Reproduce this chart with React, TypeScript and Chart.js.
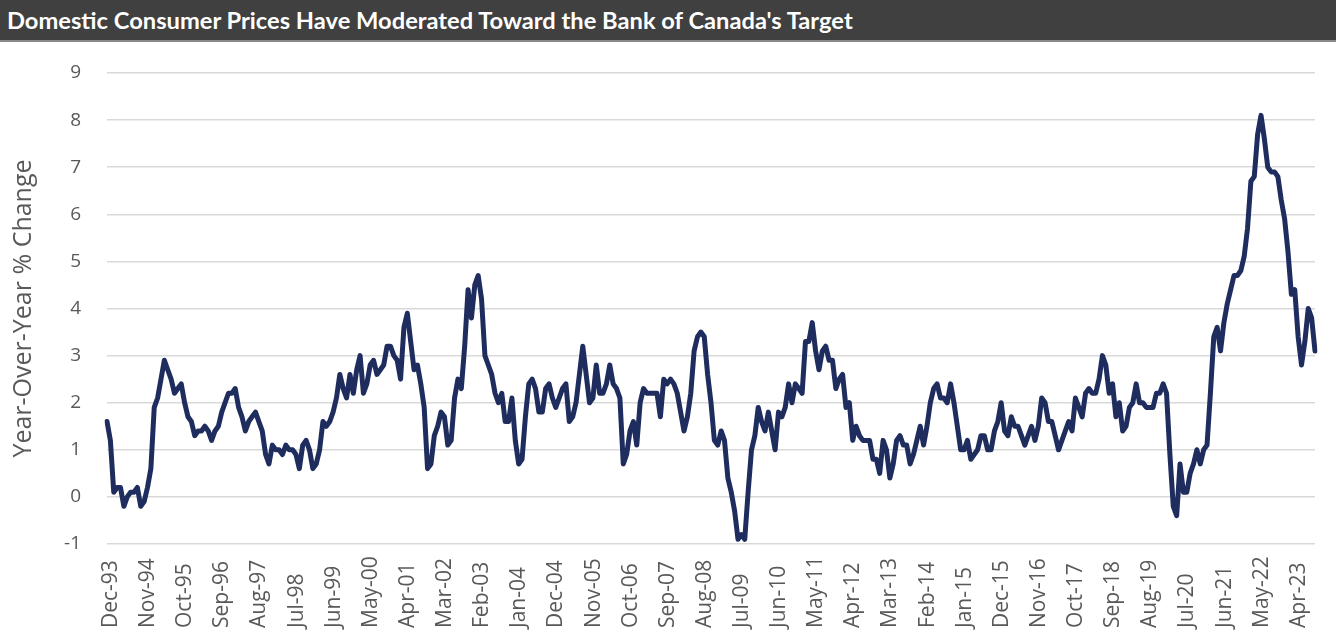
import React, { useEffect, useRef } from "react";
import { Chart, registerables } from "chart.js";

Chart.register(...registerables);

const TITLE = "Domestic Consumer Prices Have Moderated Toward the Bank of Canada's Target";
const Y_TITLE = "Year-Over-Year % Change";
const MONTHS = ["Jan", "Feb", "Mar", "Apr", "May", "Jun", "Jul", "Aug", "Sep", "Oct", "Nov", "Dec"];
const START_YEAR = 1993;
const START_MONTH = 11; // December
const LABEL_EVERY = 11;

// Year-over-year % change, monthly, Dec-93 .. Oct-23
const cpiYoY: number[] = [
  1.6,
  1.2, 0.1, 0.2, 0.2, -0.2, 0.0, 0.1, 0.1, 0.2, -0.2, -0.1, 0.2,
  0.6, 1.9, 2.1, 2.5, 2.9, 2.7, 2.5, 2.2, 2.3, 2.4, 2.0, 1.7,
  1.6, 1.3, 1.4, 1.4, 1.5, 1.4, 1.2, 1.4, 1.5, 1.8, 2.0, 2.2,
  2.2, 2.3, 1.9, 1.7, 1.4, 1.6, 1.7, 1.8, 1.6, 1.4, 0.9, 0.7,
  1.1, 1.0, 1.0, 0.9, 1.1, 1.0, 1.0, 0.9, 0.6, 1.1, 1.2, 1.0,
  0.6, 0.7, 1.0, 1.6, 1.5, 1.6, 1.8, 2.1, 2.6, 2.3, 2.1, 2.6,
  2.2, 2.7, 3.0, 2.2, 2.4, 2.8, 2.9, 2.6, 2.7, 2.8, 3.2, 3.2,
  3.0, 2.9, 2.5, 3.6, 3.9, 3.3, 2.7, 2.8, 2.4, 1.9, 0.6, 0.7,
  1.3, 1.5, 1.8, 1.7, 1.1, 1.2, 2.1, 2.5, 2.3, 3.2, 4.4, 3.8,
  4.5, 4.7, 4.2, 3.0, 2.8, 2.6, 2.2, 2.0, 2.2, 1.6, 1.6, 2.1,
  1.2, 0.7, 0.8, 1.7, 2.4, 2.5, 2.3, 1.8, 1.8, 2.3, 2.4, 2.1,
  1.9, 2.1, 2.3, 2.4, 1.6, 1.7, 2.0, 2.6, 3.2, 2.6, 2.0, 2.1,
  2.8, 2.2, 2.2, 2.4, 2.8, 2.4, 2.3, 2.1, 0.7, 0.9, 1.4, 1.6,
  1.1, 2.0, 2.3, 2.2, 2.2, 2.2, 2.2, 1.7, 2.5, 2.4, 2.5, 2.4,
  2.2, 1.8, 1.4, 1.7, 2.2, 3.1, 3.4, 3.5, 3.4, 2.6, 2.0, 1.2,
  1.1, 1.4, 1.2, 0.4, 0.1, -0.3, -0.9, -0.8, -0.9, 0.1, 1.0, 1.3,
  1.9, 1.6, 1.4, 1.8, 1.4, 1.0, 1.8, 1.7, 1.9, 2.4, 2.0, 2.4,
  2.3, 2.2, 3.3, 3.3, 3.7, 3.1, 2.7, 3.1, 3.2, 2.9, 2.9, 2.3,
  2.5, 2.6, 1.9, 2.0, 1.2, 1.5, 1.3, 1.2, 1.2, 1.2, 0.8, 0.8,
  0.5, 1.2, 1.0, 0.4, 0.7, 1.2, 1.3, 1.1, 1.1, 0.7, 0.9, 1.2,
  1.5, 1.1, 1.5, 2.0, 2.3, 2.4, 2.1, 2.1, 2.0, 2.4, 2.0, 1.5,
  1.0, 1.0, 1.2, 0.8, 0.9, 1.0, 1.3, 1.3, 1.0, 1.0, 1.4, 1.6,
  2.0, 1.4, 1.3, 1.7, 1.5, 1.5, 1.3, 1.1, 1.3, 1.5, 1.2, 1.5,
  2.1, 2.0, 1.6, 1.6, 1.3, 1.0, 1.2, 1.4, 1.6, 1.4, 2.1, 1.9,
  1.7, 2.2, 2.3, 2.2, 2.2, 2.5, 3.0, 2.8, 2.2, 2.4, 1.7, 2.0,
  1.4, 1.5, 1.9, 2.0, 2.4, 2.0, 2.0, 1.9, 1.9, 1.9, 2.2, 2.2,
  2.4, 2.2, 0.9, -0.2, -0.4, 0.7, 0.1, 0.1, 0.5, 0.7, 1.0, 0.7,
  1.0, 1.1, 2.2, 3.4, 3.6, 3.1, 3.7, 4.1, 4.4, 4.7, 4.7, 4.8,
  5.1, 5.7, 6.7, 6.8, 7.7, 8.1, 7.6, 7.0, 6.9, 6.9, 6.8, 6.3,
  5.9, 5.2, 4.3, 4.4, 3.4, 2.8, 3.3, 4.0, 3.8, 3.1,
];

const monthLabels: string[] = cpiYoY.map((_, i) => {
  const m = START_MONTH + i;
  const y = START_YEAR + Math.floor(m / 12);
  return MONTHS[m % 12] + "-" + String(y % 100).padStart(2, "0");
});

const Y_MIN = -1;
const Y_MAX = 9;

// Draws the x-axis category labels rotated, anchored at a common baseline at the bottom
const bottomAnchoredLabels = {
  id: "bottomAnchoredLabels",
  afterDraw(chart: any) {
    const xScale = chart.scales.x;
    const ctx = chart.ctx;
    const baseY = chart.height - 8;
    ctx.save();
    ctx.fillStyle = "#595959";
    ctx.font = "21px 'Open Sans', sans-serif";
    ctx.textAlign = "left";
    ctx.textBaseline = "middle";
    monthLabels.forEach((label, i) => {
      if (i % LABEL_EVERY !== 0) return;
      const x = xScale.getPixelForValue(i);
      ctx.save();
      ctx.translate(x + 4, baseY);
      ctx.rotate(-Math.PI / 2);
      ctx.fillText(label, 0, 0);
      ctx.restore();
    });
    ctx.restore();
  },
};

export default function App() {
  const canvasRef = useRef<HTMLCanvasElement | null>(null);

  useEffect(() => {
    document.body.style.margin = "0";
    const canvas = canvasRef.current;
    if (!canvas) return;
    const chart = new Chart(canvas, {
      type: "line",
      data: {
        labels: monthLabels,
        datasets: [
          {
            data: cpiYoY,
            borderColor: "#1e2c5e",
            borderWidth: 5,
            pointRadius: 0,
            tension: 0,
            fill: false,
            borderJoinStyle: "round",
            borderCapStyle: "round",
          },
        ],
      },
      options: {
        responsive: false,
        animation: false,
        devicePixelRatio: 1,
        layout: { padding: { top: 31, right: 21, left: 0, bottom: 0 } },
        plugins: {
          legend: { display: false },
          tooltip: { enabled: false },
          title: { display: false },
        },
        scales: {
          x: {
            type: "category",
            offset: false,
            grid: { display: false, drawTicks: false },
            border: { display: false },
            ticks: { display: false, autoSkip: false },
            afterFit: (scale: any) => {
              scale.height = 92;
              scale.paddingLeft = 0;
              scale.paddingRight = 0;
            },
          },
          y: {
            min: Y_MIN,
            max: Y_MAX,
            grid: { color: "#d9d9d9", lineWidth: 1.5, drawTicks: false },
            border: { display: false },
            ticks: {
              stepSize: 1,
              padding: 26,
              color: "#595959",
              font: { family: "'Open Sans', sans-serif", size: 19 },
            },
            title: {
              display: true,
              text: Y_TITLE,
              color: "#595959",
              font: { family: "'Open Sans', sans-serif", size: 25 },
              padding: { top: 9, bottom: 0 },
            },
            afterFit: (scale: any) => {
              scale.width = 107;
              scale.paddingTop = 0;
              scale.paddingBottom = 0;
            },
          },
        },
      },
      plugins: [bottomAnchoredLabels],
    });
    return () => chart.destroy();
  }, []);

  return (
    <div style={{ width: 1336, height: 636, background: "#ffffff" }}>
      <div
        style={{
          height: 40,
          background: "#404040",
          borderBottom: "2px solid #8a8a8a",
          color: "#ffffff",
          fontFamily: "Lato, 'Open Sans', sans-serif",
          fontWeight: 700,
          fontSize: 23.7,
          lineHeight: "40px",
          paddingLeft: 7,
          whiteSpace: "nowrap",
          overflow: "hidden",
        }}
      >
        {TITLE}
      </div>
      <canvas ref={canvasRef} width={1336} height={594} style={{ display: "block" }} />
    </div>
  );
}
